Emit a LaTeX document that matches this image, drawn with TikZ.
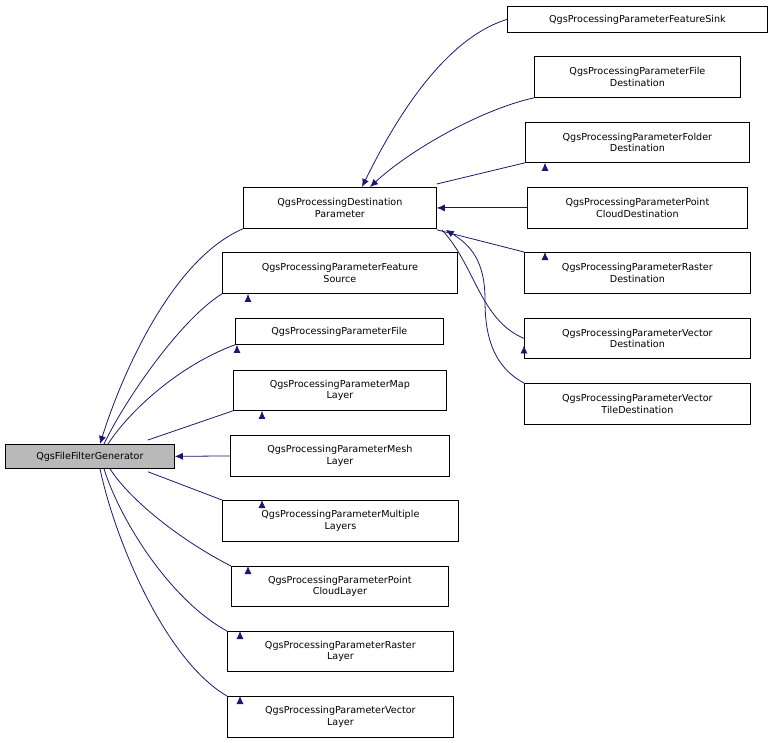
\documentclass[tikz,border=0pt]{standalone}
\usepackage{fontspec}
\setmainfont{DejaVu Sans}
\usetikzlibrary{arrows.meta}
\definecolor{edge}{HTML}{191970}
\begin{document}
\begin{tikzpicture}[x=1pt,y=-1pt,
  box/.style={draw=black,line width=0.8pt,fill=white,inner sep=0pt,align=center,font=\fontsize{9.6}{11.5}\selectfont,anchor=north west},
  e/.style={draw=edge,line width=0.8pt,{Latex[length=8pt,width=7pt]}-}]
\useasboundingbox (0,0) rectangle (773,743);
\newcommand\bx[6]{\node[box,minimum width=#4-#2,minimum height=#5-#3,#6] (#1) at (#2,#3) {};}
\node[box,fill=gray!55,minimum width=169,minimum height=24] (base) at (5,444) {QgsFileFilterGenerator};
\node[box,minimum width=193,minimum height=41] (dest) at (243,187) {QgsProcessingDestination\\Parameter};
\node[box,minimum width=235,minimum height=41] (fsrc) at (222,252) {QgsProcessingParameterFeature\\Source};
\node[box,minimum width=208,minimum height=26] (file) at (235,318) {QgsProcessingParameterFile};
\node[box,minimum width=213,minimum height=40] (map) at (233,370) {QgsProcessingParameterMap\\Layer};
\node[box,minimum width=219,minimum height=41] (mesh) at (230,435) {QgsProcessingParameterMesh\\Layer};
\node[box,minimum width=236,minimum height=41] (mult) at (222,500) {QgsProcessingParameterMultiple\\Layers};
\node[box,minimum width=217,minimum height=40] (pcl) at (231,566) {QgsProcessingParameterPoint\\CloudLayer};
\node[box,minimum width=226,minimum height=40] (ras) at (227,631) {QgsProcessingParameterRaster\\Layer};
\node[box,minimum width=226,minimum height=41] (vec) at (227,696) {QgsProcessingParameterVector\\Layer};
\node[box,minimum width=260,minimum height=26] (sink) at (507,6) {QgsProcessingParameterFeatureSink};
\node[box,minimum width=206,minimum height=41] (fdest) at (534,56) {QgsProcessingParameterFile\\Destination};
\node[box,minimum width=224,minimum height=40] (fold) at (525,122) {QgsProcessingParameterFolder\\Destination};
\node[box,minimum width=220,minimum height=41] (pcd) at (527,187) {QgsProcessingParameterPoint\\CloudDestination};
\node[box,minimum width=226,minimum height=41] (rd) at (524,252) {QgsProcessingParameterRaster\\Destination};
\node[box,minimum width=226,minimum height=40] (vd) at (524,318) {QgsProcessingParameterVector\\Destination};
\node[box,minimum width=226,minimum height=41] (vtd) at (524,383) {QgsProcessingParameterVector\\TileDestination};
\coordinate (c1) at (485,300);
% base edges
\draw[e] (base.north west)++(95,0) .. controls (120,380) and (170,260) .. (dest.south west);
\draw[e] (base.north west)++(99,0) .. controls (125,400) and (180,320) .. (fsrc.south west)++(26,0);
\draw[e] (base.north west)++(103,0) .. controls (130,410) and (180,365) .. (file.south west)++(2,0);
\draw[e] (base.north west)++(143,-4) -- (map.south west)++(29,0);
\draw[e] (base.east) -- (mesh.west);
\draw[e] (base.south west)++(143,3) -- (mult.north west)++(40,0);
\draw[e] (base.south west)++(105,0) .. controls (130,500) and (180,540) .. (pcl.north west)++(17,0);
\draw[e] (base.south west)++(99,0) .. controls (120,520) and (170,600) .. (ras.north west)++(13,0);
\draw[e] (base.south west)++(95,0) .. controls (115,540) and (165,660) .. (vec.north west)++(13,0);
% dest edges
\draw[e] (dest.north west)++(119,0) .. controls (390,130) and (440,40) .. (sink.west);
\draw[e] (dest.north west)++(127,0) .. controls (410,150) and (480,110) .. (fdest.south west);
\draw[e] (dest.north east)++(0,-3) -- (fold.south west)++(20,0);
\draw[e] (dest.east) -- (pcd.west);
\draw[e] (dest.south east)++(0,1) -- (rd.north west)++(21,0);
\draw[e] (dest.south east)++(5,1) .. controls (475,265) and (480,320) .. (vd.west)++(0,7);
\draw[e] (dest.south east)++(9,1) .. controls (470,245) and (485,260) .. (c1) .. controls (485,330) and (490,365) .. (vtd.north west);
\end{tikzpicture}
\end{document}
